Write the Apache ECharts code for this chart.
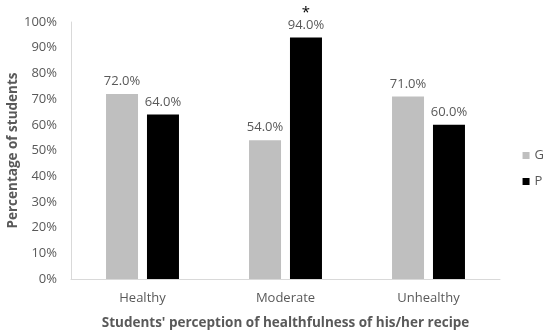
<!DOCTYPE html>
<html><head><meta charset="utf-8">
<script src="https://cdn.jsdelivr.net/npm/echarts@6/dist/echarts.min.js"></script>
<style>html,body{margin:0;padding:0;background:#fff}#c{width:550px;height:335px}</style>
</head><body><div id="c"></div>
<script>
const categories = ['Healthy', 'Moderate', 'Unhealthy'];
const seriesG = [72.0, 54.0, 71.0];
const seriesP = [64.0, 94.0, 60.0];
const significant = [false, true, false]; // asterisk for P
const yTicks = [0, 10, 20, 30, 40, 50, 60, 70, 80, 90, 100];

const font = 'Open Sans';
const chart = echarts.init(document.getElementById('c'));
function lbl(sig) {
  return {
    show: true, position: 'top', distance: 6,
    fontFamily: font, fontSize: 13, color: '#595959',
    formatter: p => (sig[p.dataIndex] ? '{s|*}\n' : '') + p.value.toFixed(1) + '%',
    rich: { s: { fontSize: 15, color: '#000', lineHeight: 12, fontFamily: font } }
  };
}
chart.setOption({
  animation: false,
  grid: { left: 71, right: 50, top: 22, bottom: 56, containLabel: false, outerBoundsMode: 'none' },
  legend: {
    orient: 'vertical', right: 1, top: 144, itemWidth: 7, itemHeight: 7, itemGap: 13,
    icon: 'rect',
    textStyle: { fontFamily: font, fontSize: 13, color: '#595959' },
    data: ['G', 'P']
  },
  xAxis: {
    type: 'category', data: categories,
    axisLine: { lineStyle: { color: '#d9d9d9', width: 1 } },
    axisTick: { show: false },
    axisLabel: { fontFamily: font, fontSize: 13, color: '#595959', margin: 13 },
    name: "Students' perception of healthfulness of his/her recipe",
    nameLocation: 'middle', nameGap: 37, nameMoveOverlap: false,
    nameTextStyle: { fontFamily: font, fontSize: 13.5, fontWeight: 'bold', color: '#595959' }
  },
  yAxis: {
    type: 'value', min: 0, max: 100, interval: 10,
    axisLine: { show: true, lineStyle: { color: '#d9d9d9' } },
    splitLine: { show: false },
    axisLabel: { fontFamily: font, fontSize: 13, color: '#595959', margin: 14,
      formatter: v => yTicks.includes(v) ? v + '%' : '' },
    name: 'Percentage of students', nameLocation: 'middle', nameGap: 51, nameMoveOverlap: false,
    nameTextStyle: { fontFamily: font, fontSize: 13.5, fontWeight: 'bold', color: '#595959' }
  },
  series: [
    { name: 'G', type: 'bar', data: seriesG, barWidth: 32, barGap: '28%',
      itemStyle: { color: '#bfbfbf' }, label: lbl([false, false, false]) },
    { name: 'P', type: 'bar', data: seriesP, barWidth: 32,
      itemStyle: { color: '#000000' }, label: lbl(significant) }
  ]
});
</script></body></html>
